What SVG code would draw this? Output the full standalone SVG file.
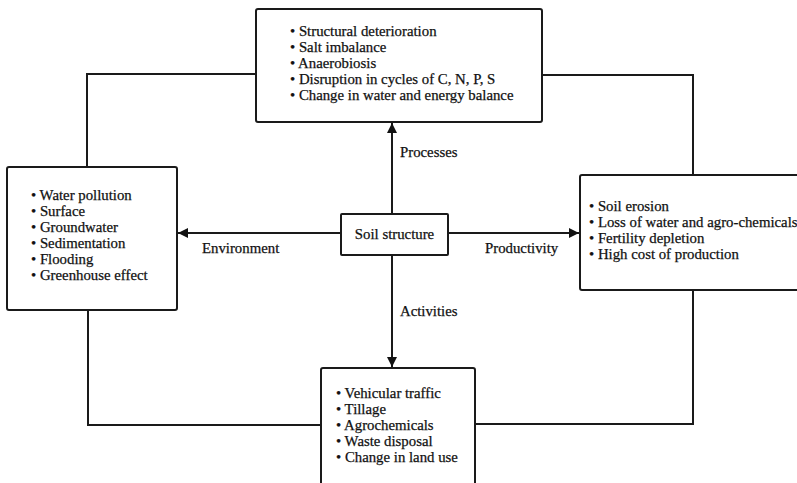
<svg xmlns="http://www.w3.org/2000/svg" width="797" height="483" viewBox="0 0 797 483">
<style>
.box{fill:#fff;stroke:#1a1a1a;stroke-width:2}
.ln{fill:none;stroke:#1a1a1a;stroke-width:2}
.t{font-family:"Liberation Serif","Times New Roman",serif;font-size:14.8px;fill:#111;stroke:#111;stroke-width:0.25}
</style>
<defs>
<marker id="ah" viewBox="0 0 10 10" refX="10" refY="5" markerWidth="5" markerHeight="5" orient="auto" markerUnits="strokeWidth">
<path d="M0,0 L10,5 L0,10 Z" fill="#111"/>
</marker>
</defs>
<rect width="797" height="483" fill="#fff"/>
<g id="connectors">
<polyline class="ln" points="256,74 87,74 87,167"/>
<polyline class="ln" points="542,75 693,75 693,175"/>
<polyline class="ln" points="88,310 88,425 322,425"/>
<polyline class="ln" points="693,290 693,424 475,424"/>
<line class="ln" x1="392" y1="214" x2="392" y2="123" stroke-width="2.5" marker-end="url(#ah)"/>
<line class="ln" x1="392" y1="255" x2="392" y2="367" stroke-width="2.5" marker-end="url(#ah)"/>
<line class="ln" x1="341" y1="233" x2="178" y2="233" marker-end="url(#ah)"/>
<line class="ln" x1="448" y1="233" x2="579" y2="233" marker-end="url(#ah)"/>
<text class="t" x="400" y="157">Processes</text>
<text class="t" x="202" y="253">Environment</text>
<text class="t" x="485" y="253">Productivity</text>
<text class="t" x="400" y="316">Activities</text>
</g>
<g id="processes">
<rect class="box" x="256" y="9" width="286" height="113" rx="2"/>
<text class="t" x="290" y="36">• Structural deterioration</text>
<text class="t" x="290" y="52">• Salt imbalance</text>
<text class="t" x="290" y="68">• Anaerobiosis</text>
<text class="t" x="290" y="84">• Disruption in cycles of C, N, P, S</text>
<text class="t" x="290" y="100">• Change in water and energy balance</text>
</g>
<g id="environment">
<rect class="box" x="7" y="167" width="170" height="143" rx="2"/>
<text class="t" x="31" y="200">• Water pollution</text>
<text class="t" x="31" y="216">• Surface</text>
<text class="t" x="31" y="232">• Groundwater</text>
<text class="t" x="31" y="248">• Sedimentation</text>
<text class="t" x="31" y="264">• Flooding</text>
<text class="t" x="31" y="280">• Greenhouse effect</text>
</g>
<g id="productivity">
<rect class="box" x="580" y="175" width="230" height="115" rx="2"/>
<text class="t" x="589" y="211">• Soil erosion</text>
<text class="t" x="589" y="227">• Loss of water and agro-chemicals</text>
<text class="t" x="589" y="243">• Fertility depletion</text>
<text class="t" x="589" y="259">• High cost of production</text>
</g>
<g id="activities">
<rect class="box" x="321" y="368" width="154" height="130" rx="2"/>
<text class="t" x="336" y="398">• Vehicular traffic</text>
<text class="t" x="336" y="414">• Tillage</text>
<text class="t" x="336" y="430">• Agrochemicals</text>
<text class="t" x="336" y="446">• Waste disposal</text>
<text class="t" x="336" y="462">• Change in land use</text>
</g>
<g id="soil-structure">
<rect class="box" x="341" y="214" width="107" height="41" rx="1"/>
<text class="t" x="394.5" y="239" text-anchor="middle">Soil structure</text>
</g>
</svg>
